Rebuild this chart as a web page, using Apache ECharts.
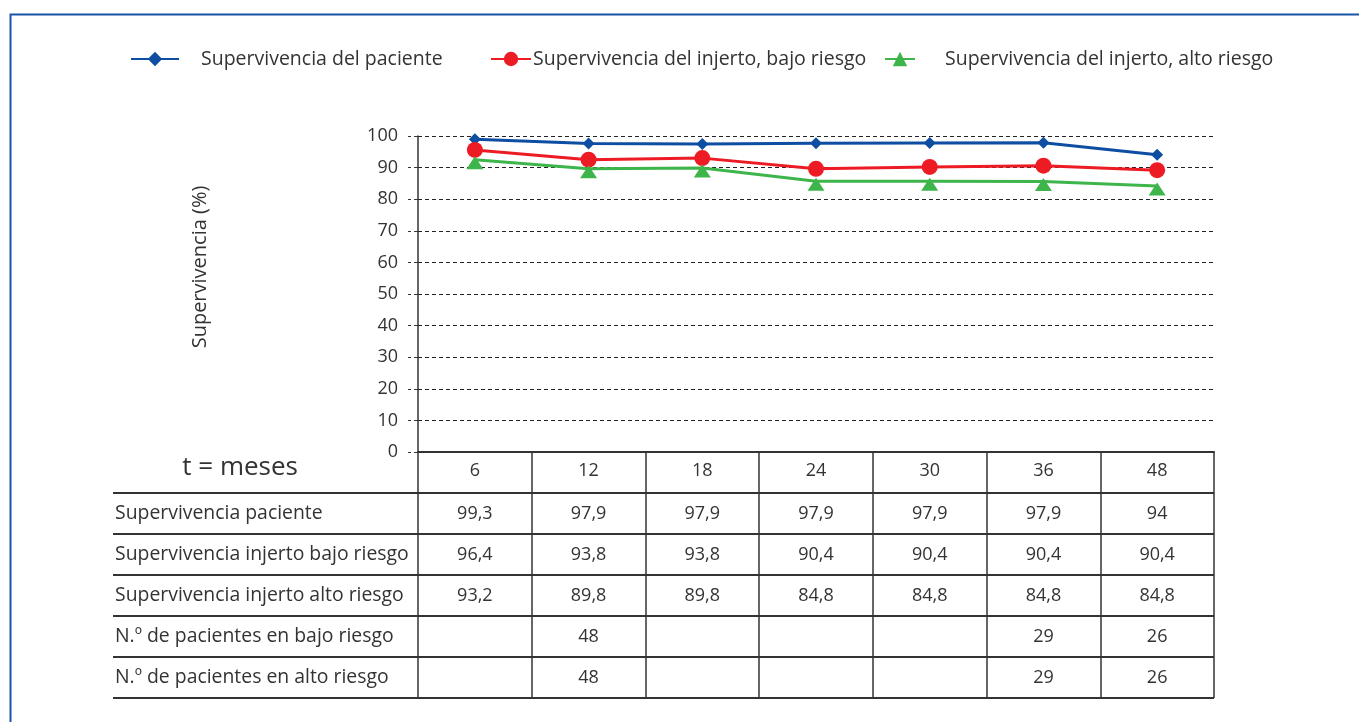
<!DOCTYPE html>
<html>
<head>
<meta charset="utf-8">
<script src="https://cdn.jsdelivr.net/npm/echarts@6/dist/echarts.min.js"></script>
<style>
  html, body { margin: 0; padding: 0; background: #fff; }
  #grafico { width: 1359px; height: 722px; }
</style>
</head>
<body>
<div id="grafico"></div>
<script>
// meses del eje x (cabecera de la tabla)
const meses = ["6", "12", "18", "24", "30", "36", "48"];

// valores de las curvas
const curvaPaciente = [99.0, 97.6, 97.5, 97.7, 97.8, 97.9, 94.1];
const curvaBajo = [95.6, 92.5, 93.0, 89.6, 90.2, 90.6, 89.2];
const curvaAlto = [92.5, 89.6, 89.9, 85.7, 85.7, 85.6, 84.2];

// filas de la tabla
const filas = [
  "Supervivencia paciente",
  "Supervivencia injerto bajo riesgo",
  "Supervivencia injerto alto riesgo",
  "N.º de pacientes en bajo riesgo",
  "N.º de pacientes en alto riesgo",
];
const tablaPaciente = [99.3, 97.9, 97.9, 97.9, 97.9, 97.9, 94];
const tablaBajo = [96.4, 93.8, 93.8, 90.4, 90.4, 90.4, 90.4];
const tablaAlto = [93.2, 89.8, 89.8, 84.8, 84.8, 84.8, 84.8];
const nBajo = [null, 48, null, null, null, 29, 26];
const nAlto = [null, 48, null, null, null, 29, 26];

const nombres = [
  "Supervivencia del paciente",
  "Supervivencia del injerto, bajo riesgo",
  "Supervivencia del injerto, alto riesgo",
];

const fuente = "Open Sans";
const texto = "#333";

// celdas de la tabla: [columna, fila, texto]; fila 0 es la cabecera
const celdas = [];
[tablaPaciente, tablaBajo, tablaAlto, nBajo, nAlto].forEach(function (fila, i) {
  fila.forEach(function (v, j) {
    if (v !== null) {
      celdas.push([j, i + 1, String(v).replace(".", ",")]);
    }
  });
});

const chart = echarts.init(document.getElementById("grafico"));

const option = {
  animation: false,
  textStyle: { fontFamily: fuente },
  graphic: [
    {
      type: "rect",
      left: 8,
      top: 12,
      shape: { width: 1400, height: 800 },
      style: { fill: "none", stroke: "#1a55a6", lineWidth: 2 },
      silent: true,
    },
    {
      type: "text",
      x: 200,
      y: 267,
      rotation: Math.PI / 2,
      style: {
        text: "Supervivencia (%)",
        fontFamily: fuente,
        fontSize: 20,
        fill: texto,
        align: "center",
        verticalAlign: "middle",
      },
      silent: true,
    },
  ],
  legend: [
    {
      data: [nombres[0]],
      left: 130,
      top: 49,
      padding: 0,
      itemWidth: 48,
      itemHeight: 18,
      textStyle: { fontSize: 19.5, color: texto, padding: [0, 0, 0, 17] },
    },
    {
      data: [nombres[1]],
      left: 490,
      top: 49,
      padding: 0,
      itemWidth: 40,
      itemHeight: 18,
      textStyle: { fontSize: 19.5, color: texto, padding: [0, 0, 0, -3] },
    },
    {
      data: [nombres[2]],
      left: 884,
      top: 49,
      padding: 0,
      itemWidth: 30,
      itemHeight: 18,
      textStyle: { fontSize: 19.5, color: texto, padding: [0, 0, 0, 25] },
    },
  ],
  grid: [
    { left: 418, right: 145, top: 136, bottom: 270 },
    { left: 418, right: 145, top: 452, bottom: 24 },
    { left: 113, width: 305, top: 493, bottom: 24 },
  ],
  xAxis: [
    {
      gridIndex: 0,
      type: "category",
      data: meses,
      axisLine: { lineStyle: { color: texto, width: 2 } },
      axisTick: { show: false },
      axisLabel: { fontSize: 18, color: texto, margin: 10 },
      name: "t = meses",
      nameLocation: "start",
      nameGap: 120,
      nameTextStyle: {
        fontSize: 26,
        color: texto,
        verticalAlign: "top",
        padding: [3, 0, 0, 0],
      },
    },
    {
      gridIndex: 1,
      type: "category",
      data: meses,
      axisLine: { show: false },
      axisTick: { show: false },
      axisLabel: { show: false },
      splitLine: { show: true, lineStyle: { color: texto, width: 1.5 } },
    },
    { gridIndex: 2, type: "value", show: false },
  ],
  yAxis: [
    {
      gridIndex: 0,
      type: "value",
      min: 0,
      max: 100,
      interval: 10,
      axisLine: { show: true, lineStyle: { color: texto, width: 1.5 } },
      axisTick: { show: true, length: 10, lineStyle: { color: texto, type: [4, 3] } },
      axisLabel: { fontSize: 18, color: texto, margin: 20 },
      splitLine: { lineStyle: { color: "#222", type: [4, 3], width: 1 } },
    },
    {
      gridIndex: 1,
      type: "category",
      inverse: true,
      data: [""].concat(filas),
      axisLine: { show: false },
      axisTick: { show: false },
      axisLabel: { show: false },
      splitLine: { show: true, lineStyle: { color: texto, width: 2 } },
    },
    {
      gridIndex: 2,
      type: "category",
      inverse: true,
      data: filas,
      axisLine: { show: false },
      axisTick: { show: false },
      axisLabel: { inside: true, align: "left", margin: 2, fontSize: 19.4, color: texto },
      splitLine: { show: true, lineStyle: { color: texto, width: 2 } },
    },
  ],
  series: [
    {
      name: nombres[0],
      type: "line",
      data: curvaPaciente,
      symbol: "diamond",
      symbolSize: 12,
      itemStyle: { color: "#0d4ea2" },
      lineStyle: { color: "#0d4ea2", width: 3 },
      silent: true,
    },
    {
      name: nombres[1],
      type: "line",
      data: curvaBajo,
      symbol: "circle",
      symbolSize: 16,
      itemStyle: { color: "#ed1c24" },
      lineStyle: { color: "#ed1c24", width: 3 },
      silent: true,
    },
    {
      name: nombres[2],
      type: "line",
      data: curvaAlto,
      symbol: "triangle",
      symbolSize: [17, 13],
      symbolOffset: [0, 3],
      itemStyle: { color: "#3db54a" },
      lineStyle: { color: "#3db54a", width: 3 },
      silent: true,
    },
    {
      type: "scatter",
      xAxisIndex: 1,
      yAxisIndex: 1,
      data: celdas,
      symbolSize: 0,
      itemStyle: { opacity: 1 },
      silent: true,
      label: {
        show: true,
        position: "inside",
        fontSize: 18,
        color: texto,
        formatter: function (p) {
          return p.value[2];
        },
      },
    },
  ],
};

chart.setOption(option);
</script>
</body>
</html>
